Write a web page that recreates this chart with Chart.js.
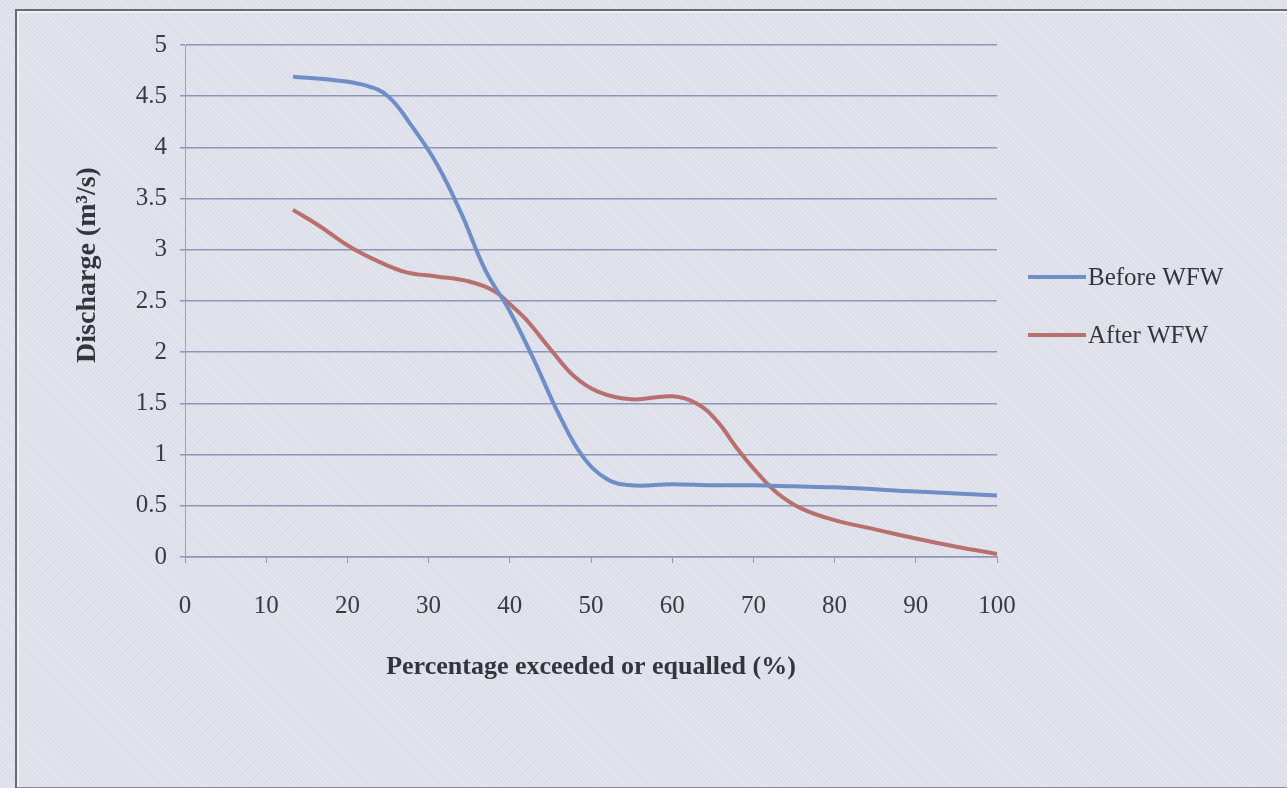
<!DOCTYPE html>
<html>
<head>
<meta charset="utf-8">
<title>Flow duration curve</title>
<script src="https://cdn.jsdelivr.net/npm/chart.js@4.4.1/dist/chart.umd.min.js"></script>
<style>
    html, body {
        margin: 0;
        padding: 0;
        width: 1287px;
        height: 788px;
        overflow: hidden;
        background-color: #dcdee9;
        background-image: repeating-linear-gradient(45deg, rgba(255,255,255,0.28) 0 1px, transparent 1px 3px);
    }
    #wrap {
        position: absolute;
        left: 0;
        top: 0;
        width: 1287px;
        height: 788px;
    }
    #frame {
        position: absolute;
        left: 15px;
        top: 9px;
        width: 1290px;
        height: 776px;
        border-left: 2px solid #6a6a70;
        border-top: 2px solid #6a6a70;
        border-bottom: 2px solid #8a8a92;
        box-shadow: inset 2px 2px 0 #eef0f6;
        pointer-events: none;
    }
</style>
</head>
<body>
<div id="wrap"><canvas id="myChart" width="1287" height="788"></canvas></div>
<div id="frame"></div>
<script>
// Percentage of time exceeded or equalled (%) and discharge (m3/s)
const pctBefore = [13.3, 18, 22, 25, 28, 31, 34, 37, 40, 43, 46, 49, 52, 55, 60, 65, 70, 75, 80, 90, 100];
const dischargeBefore = [4.69, 4.66, 4.61, 4.5, 4.2, 3.84, 3.36, 2.8, 2.4, 1.92, 1.4, 0.98, 0.76, 0.7, 0.71, 0.7, 0.7, 0.69, 0.68, 0.64, 0.6];

const pctAfter = [13.3, 16.6, 20.3, 24, 27.3, 31, 35, 38, 40, 42, 45, 48, 51, 55, 60, 63, 65.5, 68, 70.5, 73, 76, 80, 85, 90, 95, 100];
const dischargeAfter = [3.39, 3.23, 3.03, 2.88, 2.78, 2.74, 2.69, 2.6, 2.47, 2.32, 2.03, 1.76, 1.61, 1.54, 1.57, 1.5, 1.33, 1.06, 0.82, 0.62, 0.47, 0.36, 0.27, 0.18, 0.1, 0.03];

const seriesNames = ['Before WFW', 'After WFW'];
const seriesColors = ['#6f8ec6', '#b8706f'];
const yTitle = 'Discharge (m³/s)';

const serif = "'Liberation Serif', 'Times New Roman', serif";

function toPoints(xs, ys) {
    return xs.map((x, i) => ({ x: x, y: ys[i] }));
}

// y axis title and the legend on the right (line samples next to the names)
const sideLabels = {
    id: 'sideLabels',
    afterDraw(chart) {
        const ctx = chart.ctx;
        ctx.save();
        ctx.fillStyle = '#34343c';
        ctx.font = 'bold 28px ' + serif;
        ctx.textAlign = 'center';
        ctx.textBaseline = 'middle';
        ctx.translate(88, 265);
        ctx.rotate(-Math.PI / 2);
        ctx.fillText(yTitle, 0, 0);
        ctx.restore();

        const rows = [277, 335];
        ctx.save();
        chart.data.datasets.forEach((ds, i) => {
            const y = rows[i];
            ctx.strokeStyle = ds.borderColor;
            ctx.lineWidth = 4;
            ctx.beginPath();
            ctx.moveTo(1028, y);
            ctx.lineTo(1086, y);
            ctx.stroke();
            ctx.fillStyle = '#34343c';
            ctx.font = '25px ' + serif;
            ctx.textBaseline = 'middle';
            ctx.textAlign = 'left';
            ctx.fillText(ds.label, 1088, y + 1);
        });
        ctx.restore();
    }
};

const config = {
    type: 'line',
    data: {
        datasets: [
            {
                label: seriesNames[0],
                data: toPoints(pctBefore, dischargeBefore),
                borderColor: seriesColors[0],
                backgroundColor: seriesColors[0],
                borderWidth: 4,
                pointRadius: 0,
                tension: 0.4,
                fill: false
            },
            {
                label: seriesNames[1],
                data: toPoints(pctAfter, dischargeAfter),
                borderColor: seriesColors[1],
                backgroundColor: seriesColors[1],
                borderWidth: 4,
                pointRadius: 0,
                tension: 0.4,
                fill: false
            }
        ]
    },
    options: {
        responsive: false,
        animation: false,
        layout: {
            padding: { left: 60, top: 45, right: 290, bottom: 91 }
        },
        scales: {
            x: {
                type: 'linear',
                min: 0,
                max: 100,
                ticks: {
                    stepSize: 10,
                    padding: 28,
                    color: '#3a3a42',
                    font: { family: serif, size: 25 }
                },
                grid: {
                    drawOnChartArea: false,
                    tickLength: 6,
                    color: '#9a9aa6',
                    lineWidth: 1
                },
                border: { display: true, color: '#8f95b8', width: 1.5 },
                title: {
                    display: true,
                    text: 'Percentage exceeded or equalled (%)',
                    color: '#34343c',
                    font: { family: serif, size: 26, weight: 'bold' },
                    padding: { top: 0, bottom: 14 }
                },
                afterFit: (scale) => { scale.height = 140; }
            },
            y: {
                min: 0,
                max: 5,
                ticks: {
                    stepSize: 0.5,
                    padding: 13,
                    color: '#3a3a42',
                    font: { family: serif, size: 25 },
                    callback: (value) => String(value)
                },
                grid: {
                    color: '#8f95b8',
                    lineWidth: 1.5,
                    tickLength: 5
                },
                border: { display: true, color: '#a2a2aa', width: 1 },
                afterFit: (scale) => { scale.width = 125; }
            }
        },
        plugins: {
            legend: { display: false },
            tooltip: { enabled: false }
        }
    },
    plugins: [sideLabels]
};

const ctx = document.getElementById('myChart').getContext('2d');
window.myChart = new Chart(ctx, config);
</script>
</body>
</html>
